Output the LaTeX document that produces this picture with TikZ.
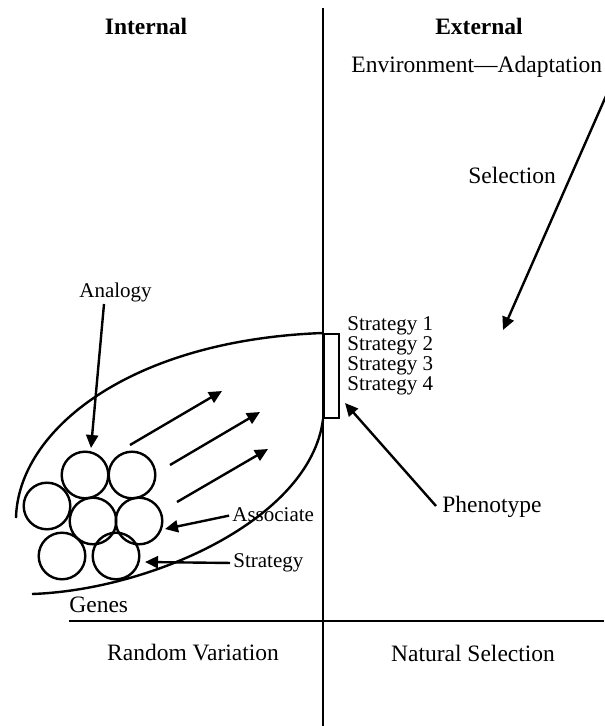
\documentclass[tikz,border=0pt]{standalone}
\usepackage{fontspec}
\setmainfont{Liberation Serif}
\usetikzlibrary{arrows.meta}
\begin{document}
\begin{tikzpicture}[x=0.5pt,y=-0.5pt,
  big/.style={font=\fontsize{11.75}{14}\selectfont, inner sep=0pt},
  bold/.style={font=\fontsize{11.75}{14}\selectfont\bfseries, inner sep=0pt},
  small/.style={font=\fontsize{10.5}{12.6}\selectfont, inner sep=0pt},
  line/.style={line width=1.2pt},
  arr/.style={line width=1.2pt, -{Triangle[length=6.5pt,width=6pt]}},
  cell/.style={circle, draw, line width=1.2pt, minimum size=23.3pt, inner sep=0pt},
  boxstyle/.style={draw, line width=1.2pt, minimum width=7.5pt, minimum height=42pt, inner sep=0pt, anchor=north west}]
\useasboundingbox (0,0) rectangle (604,726);

% texts
\node[bold] (int) at (146,26) {Internal};
\node[bold] (ext) at (479,26) {External};
\node[big, anchor=west] (env) at (351,67) {Environment—Adaptation};
\node[big, anchor=west] (sel) at (468,175) {Selection};
\node[small, anchor=west] (ana) at (79,292) {Analogy};
\node[small, anchor=west] (s1) at (347,326) {Strategy 1};
\node[small, anchor=west] (s2) at (347,346) {Strategy 2};
\node[small, anchor=west] (s3) at (347,366) {Strategy 3};
\node[small, anchor=west] (s4) at (347,386) {Strategy 4};
\node[big, anchor=west] (phen) at (442,507) {Phenotype};
\node[small, anchor=west] (assoc) at (232,515) {Associate};
\node[small, anchor=west] (strat) at (233,563) {Strategy};
\node[big, anchor=west] (genes) at (69,605) {Genes};
\node[big] (rv) at (193,653) {Random Variation};
\node[big] (ns) at (473,653) {Natural Selection};

% axes
\coordinate (vt) at (323,8);
\coordinate (vb) at (323,726);
\coordinate (hl) at (69,621);
\coordinate (hr) at (604,621);
\draw[line] (vt) -- (vb);
\draw[line] (hl) -- (hr);

% phenotype box
\node[boxstyle] (box) at (323,333) {};

% leaf shape
\coordinate (up0) at (16,518);
\coordinate (lo0) at (32,594);
\draw[line] (up0) .. controls (18,430) and (130,340) .. (box.north west);
\draw[line] (lo0) .. controls (150,590) and (310,520) .. (box.south west);

% circles
\node[cell] (c1) at (85,475) {};
\node[cell] (c2) at (132,475) {};
\node[cell] (c3) at (47,506) {};
\node[cell] (c4) at (93,521) {};
\node[cell] (c5) at (139,521) {};
\node[cell] (c6) at (62,556) {};
\node[cell] (c7) at (116,556) {};

% arrows
\coordinate (anaT) at (104,304);
\coordinate (anaH) at (91,448);
\draw[arr] (anaT) -- (anaH);

\coordinate (selT) at (606,96);
\coordinate (selH) at (503,330);
\draw[arr] (selT) -- (selH);

\coordinate (phT) at (436,506);
\coordinate (phH) at (345,403);
\draw[arr] (phT) -- (phH);

\coordinate (asH) at (165,529);
\draw[arr, shorten <=1.5pt] (assoc.west) -- (asH);

\coordinate (stH) at (145,562);
\draw[arr, shorten <=1.5pt] (strat.west) -- (stH);

\coordinate (a1T) at (130,445);
\coordinate (a1H) at (222,391);
\draw[arr] (a1T) -- (a1H);
\coordinate (a2T) at (170,465);
\coordinate (a2H) at (260,412);
\draw[arr] (a2T) -- (a2H);
\coordinate (a3T) at (177,502);
\coordinate (a3H) at (268,449);
\draw[arr] (a3T) -- (a3H);
\end{tikzpicture}
\end{document}
